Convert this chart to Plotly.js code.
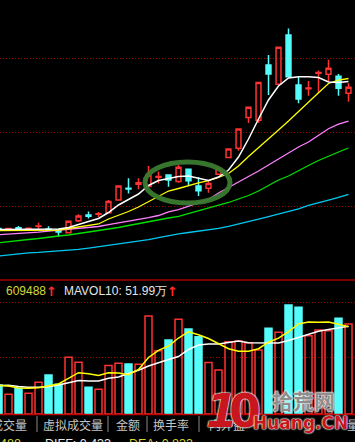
<!DOCTYPE html>
<html><head><meta charset="utf-8">
<script src="https://cdn.plot.ly/plotly-3.0.1.min.js"></script>
<style>html,body{margin:0;padding:0;background:#000;overflow:hidden}#chart{width:355px;height:442px}</style>
</head><body><div id="chart"></div>
<script>
// ---- data ----
const days = [1,2,3,4,5,6,7,8,9,10,11,12,13,14,15,16,17,18,19,20,21,22,23,24,25,26,27,28,29,30,31,32,33,34,35,36];
const openP  = [9.39,9.35,9.41,9.39,9.45,9.38,9.35,9.28,9.60,9.76,9.78,9.82,10.16,10.48,10.59,10.53,10.78,10.84,10.66,10.99,10.54,10.48,10.86,11.31,11.56,12.39,12.32,13.81,13.29,14.62,13.27,13.17,13.59,13.56,13.51,13.05];
const highP  = [9.42,9.41,9.46,9.41,9.55,9.45,9.35,9.59,9.78,9.85,9.84,10.16,10.54,10.75,10.75,11.08,10.93,10.84,11.11,10.99,10.78,10.68,11.02,11.54,12.08,12.67,13.34,14.08,14.29,14.80,13.49,13.38,13.66,13.95,13.57,13.32];
const lowP   = [9.35,9.34,9.34,9.38,9.38,9.34,9.17,9.28,9.57,9.66,9.70,9.82,10.16,10.34,10.45,10.53,10.61,10.52,10.63,10.57,10.27,10.36,10.86,11.31,11.49,12.24,12.24,13.00,13.29,13.49,12.78,12.98,13.05,13.36,12.98,12.82];
const closeP = [9.36,9.39,9.35,9.40,9.46,9.36,9.30,9.59,9.73,9.72,9.79,10.12,10.54,10.46,10.63,10.84,10.80,10.70,11.05,10.68,10.41,10.61,11.02,11.54,12.08,12.67,13.34,13.57,14.29,13.49,12.89,13.19,13.61,13.72,13.18,13.21];
const ma5  = [9.365,9.365,9.365,9.365,9.365,9.365,9.378,9.419,9.500,9.568,9.662,9.824,10.027,10.176,10.324,10.554,10.689,10.743,10.797,10.811,10.743,10.689,10.784,10.973,11.324,11.811,12.351,12.865,13.243,13.459,13.495,13.495,13.473,13.351,13.338,13.365];
const ma10 = [9.338,9.338,9.338,9.338,9.338,9.338,9.351,9.392,9.432,9.473,9.514,9.649,9.743,9.851,9.973,10.122,10.270,10.405,10.473,10.554,10.622,10.689,10.770,10.878,11.081,11.338,11.568,11.811,12.054,12.297,12.559,12.824,13.062,13.311,13.405,13.446];
const ma20 = [9.224,9.238,9.251,9.270,9.292,9.319,9.346,9.368,9.389,9.416,9.446,9.497,9.541,9.586,9.638,9.686,9.743,9.838,9.905,9.992,10.068,10.176,10.351,10.500,10.635,10.784,10.946,11.108,11.270,11.446,11.595,11.730,11.919,12.089,12.211,12.297];
const ma30 = [9.005,9.041,9.068,9.095,9.122,9.162,9.189,9.216,9.257,9.297,9.324,9.378,9.419,9.473,9.527,9.581,9.630,9.676,9.722,9.797,9.865,9.932,10.014,10.095,10.189,10.284,10.405,10.554,10.703,10.811,10.959,11.095,11.230,11.351,11.459,11.568];
const ma60 = [8.649,8.684,8.716,8.735,8.746,8.762,8.778,8.797,8.830,8.862,8.897,8.932,8.968,9.003,9.043,9.089,9.143,9.203,9.249,9.284,9.319,9.354,9.397,9.451,9.511,9.578,9.646,9.714,9.781,9.849,9.924,10.014,10.095,10.162,10.235,10.311];
const volume  = [196388,133408,174040,140180,214672,264108,201128,383972,350112,180812,167268,328442,343340,338600,336568,663656,428668,501128,641308,575620,523476,348758,297968,489616,494356,482844,433408,580360,553272,738148,722572,530248,568848,564108,648080,609488];
const mavol5  = [193002,189616,176072,174040,178104,189616,203160,241760,279684,272912,260722,279684,277652,266140,301354,382618,431376,460496,514672,557336,537020,511286,477426,442212,425282,425282,442212,486230,513318,558013,609480,623024,621670,623024,607448,591196];
const mavol10 = [193002,194356,186230,180812,180812,184198,196388,209932,226862,223476,223476,241760,250564,274266,295936,325056,348758,369074,389390,436794,467268,474040,474040,482166,494356,482166,480812,480812,480812,497742,518058,538374,560722,572234,583746,594582];
const volText = '609488';
const mavolText = 'MAVOL10: 51.99万';
const tabs = ['成交量','虚拟成交量','金额','换手率','内外盘','量'];

// ---- styling ----
const RED = '#ff3232', CYAN = '#54fcfc';
const isUp = closeP.map((c,i)=> c >= openP[i]);
const volFill = isUp.map(u => u ? 'rgba(0,0,0,0)' : CYAN);
const volLine = isUp.map(u => u ? RED : CYAN);

function line(y, color, w, ax){ return {type:'scatter', mode:'lines', x:days, y:y, xaxis:'x', yaxis:ax, line:{color:color, width:w}, hoverinfo:'skip'}; }

const traces = [
  {type:'candlestick', x:days, open:openP, high:highP, low:lowP, close:closeP, xaxis:'x', yaxis:'y',
   increasing:{line:{color:RED, width:1.5}, fillcolor:'rgba(0,0,0,0)'},
   decreasing:{line:{color:CYAN, width:1.5}, fillcolor:CYAN}, whiskerwidth:0, hoverinfo:'skip'},
  line(ma60, '#00c8f0', 1.3, 'y'),
  line(ma30, '#00e000', 1.3, 'y'),
  line(ma20, '#ff80ff', 1.3, 'y'),
  line(ma10, '#ffff00', 1.3, 'y'),
  line(ma5,  '#ffffff', 1.5, 'y'),
  {type:'bar', x:days, y:volume, xaxis:'x', yaxis:'y2', width:0.7,
   marker:{color:volFill, line:{color:volLine, width:1.5}}, hoverinfo:'skip'},
  line(mavol10, '#ffffff', 1.5, 'y2'),
  line(mavol5,  '#ffff00', 1.5, 'y2')
];

const H = 442, W = 355;
const px = x => x / W, py = y => (H - y) / H;
const grid = {showticklabels:false, gridcolor:'#a00000', griddash:'1px,2px', gridwidth:1, zeroline:false, showline:false, ticks:'', fixedrange:true};

const glow = '0 0 2px #fff, 0 0 2px #fff, 0 0 1px #fff';
const ann = (t, x, y, opt) => Object.assign({text:t, x:px(x), y:py(y), xref:'paper', yref:'paper', showarrow:false, xanchor:'left', yanchor:'middle'}, opt);

const annotations = [
  ann(volText, 4, 291, {font:{family:'Liberation Sans, Arial', size:12, color:'#d6d63a'}}),
  ann('↑', 51.5, 291, {xanchor:'center', font:{family:'DejaVu Sans', size:13, color:'#ff2a2a', weight:700}}),
  ann(mavolText, 62, 291, {font:{family:'Liberation Sans, Arial', size:12, color:'#e6e6e6'}}),
  ann('↑', 172, 291, {xanchor:'center', font:{family:'DejaVu Sans', size:13, color:'#ff2a2a', weight:700}}),
  ann(tabs[0], 29, 424, {xanchor:'right', font:{family:'Noto Sans CJK SC', size:12, color:'#c4c4c4'}}),
  ann(tabs[1], 73, 424, {xanchor:'center', font:{family:'Noto Sans CJK SC', size:12, color:'#c4c4c4'}}),
  ann(tabs[2], 128, 424, {xanchor:'center', font:{family:'Noto Sans CJK SC', size:12, color:'#c4c4c4'}}),
  ann(tabs[3], 171, 424, {xanchor:'center', font:{family:'Noto Sans CJK SC', size:12, color:'#c4c4c4'}}),
  ann(tabs[4], 207, 424, {font:{family:'Noto Sans CJK SC', size:12, color:'#c4c4c4'}}),
  ann(tabs[5], 345, 424, {font:{family:'Noto Sans CJK SC', size:12, color:'#c4c4c4'}}),
  // bottom row (cut by the lower edge, as in the reference)
  ann('488', -2, 444, {font:{family:'Liberation Sans', size:12.5, color:'#d6d63a'}}),
  ann('DIFF: 0.433', 43, 444, {font:{family:'Liberation Sans', size:12.5, color:'#e6e6e6'}}),
  ann('DEA: 0.833', 127, 444, {font:{family:'Liberation Sans', size:12.5, color:'#d6d63a'}}),
  // watermark
  ann('1', 222, 411, {xanchor:'center', font:{family:'DejaVu Sans', size:46, color:'#c8161e', weight:700, style:'italic', shadow:glow}}),
  ann('0', 245, 411, {xanchor:'center', font:{family:'DejaVu Sans', size:46, color:'#c8161e', weight:700, shadow:glow}}),
  ann('拾荒网', 303, 400, {xanchor:'center', font:{family:'Noto Sans CJK SC', size:21, color:'#8e8e8e', weight:700, shadow:glow}}),
  ann('Huang.CN', 300, 423, {xanchor:'center', font:{family:'DejaVu Sans', size:17, color:'#c8161e', weight:700, shadow:glow}})
];

const vline = (x, c) => ({type:'line', xref:'paper', yref:'paper', x0:px(x), x1:px(x), y0:py(416), y1:py(432), line:{color:c, width:1}});
const shapes = [
  {type:'line', xref:'paper', yref:'paper', x0:0, x1:1, y0:py(280), y1:py(280), line:{color:'#7a0000', width:2}},
  {type:'line', xref:'paper', yref:'paper', x0:0, x1:1, y0:py(414.5), y1:py(414.5), line:{color:'#c00000', width:1.5}},
  vline(37,'#8a8a8a'), vline(108,'#8a8a8a'), vline(147,'#8a8a8a'), vline(199,'#8a8a8a'),
  {type:'circle', xref:'paper', yref:'paper', x0:px(145), x1:px(230), y0:py(203), y1:py(162),
   line:{color:'rgba(58,122,48,0.95)', width:5}, layer:'above'}
];

const layout = {
  width:W, height:H, margin:{l:0,r:0,t:0,b:0},
  paper_bgcolor:'#000', plot_bgcolor:'#000', showlegend:false, hovermode:false, dragmode:false,
  xaxis:{range:[1.15,36.65], showticklabels:false, showgrid:false, zeroline:false, showline:false, ticks:'', rangeslider:{visible:false}, anchor:'y2', fixedrange:true},
  yaxis:Object.assign({domain:[py(280),1], range:[8.0,15.5676], tickvals:[10,12,14]}, grid),
  yaxis2:Object.assign({domain:[py(414),py(282)], range:[0,893904], tickvals:[386004,758464], anchor:'x'}, grid),
  annotations:annotations, shapes:shapes
};

Plotly.newPlot('chart', traces, layout, {staticPlot:true, displayModeBar:false});
</script></body></html>
